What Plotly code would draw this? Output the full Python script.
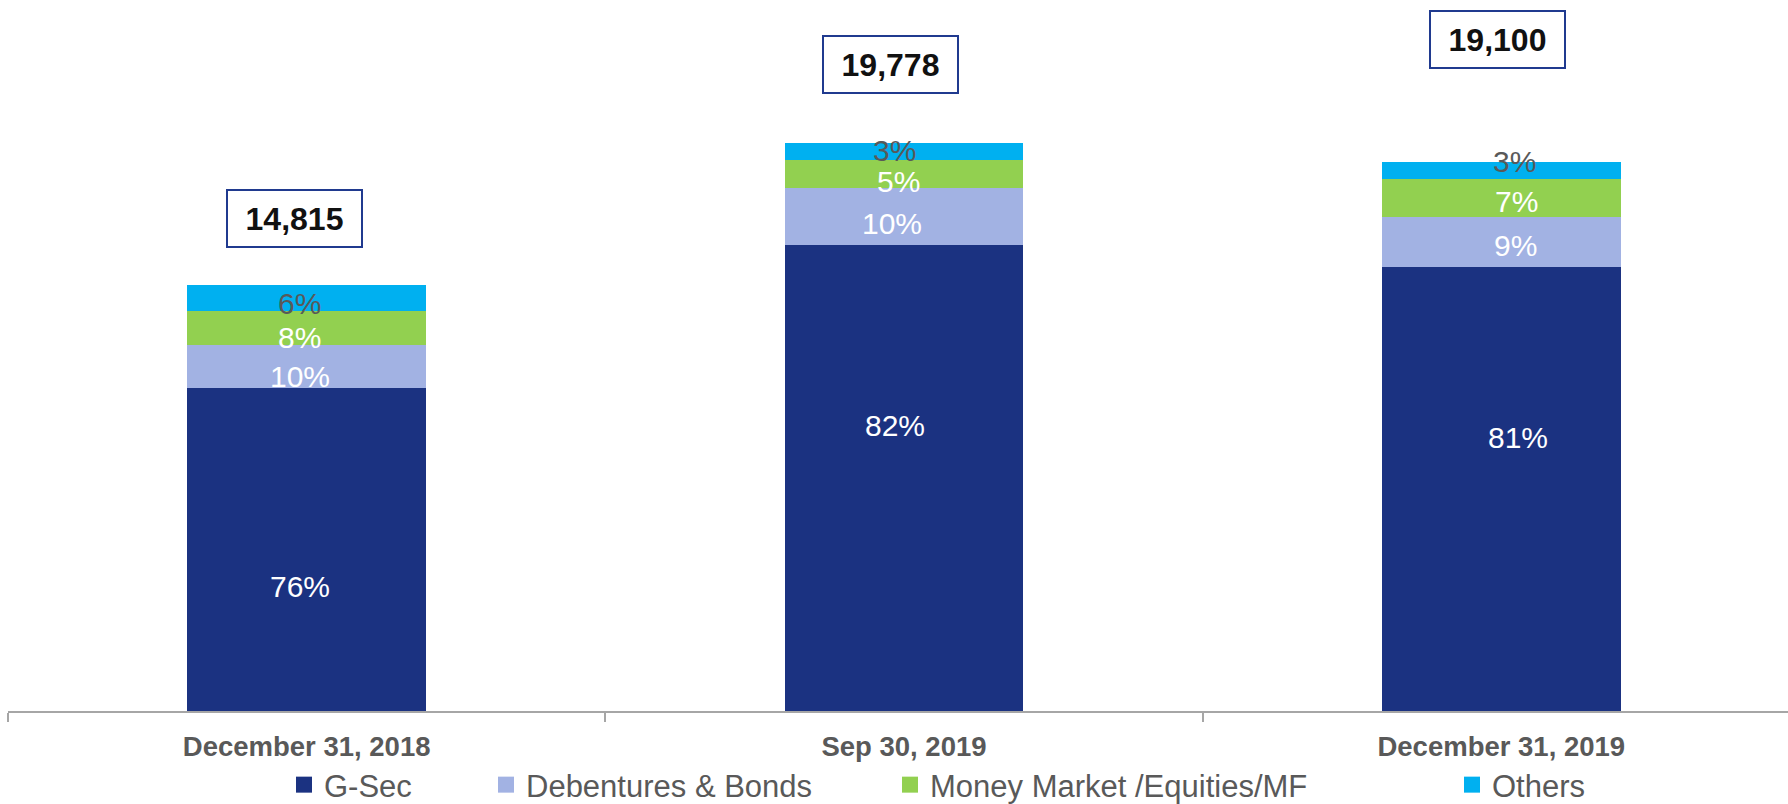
import plotly.graph_objects as go

# ---- data ----
categories = ["December 31, 2018", "Sep 30, 2019", "December 31, 2019"]
totals = [14815, 19778, 19100]
series_names = ["G-Sec", "Debentures & Bonds", "Money Market /Equities/MF", "Others"]
gsec_pct = [76, 82, 81]
debentures_pct = [10, 10, 9]
money_market_pct = [8, 5, 7]
others_pct = [6, 3, 3]
total_labels = ["14,815", "19,778", "19,100"]

pct_series = [gsec_pct, debentures_pct, money_market_pct, others_pct]
colors = ["#1B3281", "#A2B2E3", "#92D050", "#00B0F0"]
label_colors = ["#FFFFFF", "#FFFFFF", "#FFFFFF", "#595959"]
FONT = "Arial, 'Liberation Sans', sans-serif"

fig = go.Figure()
legend_names = ["legend", "legend2", "legend3", "legend4"]
for k, (name, pcts) in enumerate(zip(series_names, pct_series)):
    vals = [t * p / 100 for t, p in zip(totals, pcts)]
    fig.add_trace(go.Bar(
        x=categories, y=vals, name=name,
        marker=dict(color=colors[k], line=dict(width=0)),
        width=0.40, hoverinfo="skip", showlegend=False,
    ))
# legend entries (square swatches)
for k, name in enumerate(series_names):
    fig.add_trace(go.Scatter(
        x=[None], y=[None], mode="markers", name=name,
        marker=dict(symbol="square", size=16, color=colors[k]),
        legend=legend_names[k], hoverinfo="skip",
    ))

# percentage labels (manual offsets as in the original slide)
xshifts = [[-7, -7, -7, -7], [-9, -12, -5, -9], [17, 14, 15, 13]]
yshifts = [[-37, -10, -10, -5], [53, -7, -7, 1], [51, -4, -4, 9]]
annotations = []
for i, cat in enumerate(categories):
    base = 0
    for k, pcts in enumerate(pct_series):
        h = totals[i] * pcts[i] / 100
        annotations.append(dict(
            x=cat, xref="x", y=base + h / 2, yref="y",
            text=f"{pcts[i]}%", showarrow=False,
            font=dict(family=FONT, size=30, color=label_colors[k]),
            xshift=xshifts[i][k], yshift=yshifts[i][k],
        ))
        base += h

# total boxes
box_xshift = [-12, -13, -4]
box_y = [0.692, 0.909, 0.944]
for i, cat in enumerate(categories):
    annotations.append(dict(
        x=cat, xref="x", y=box_y[i], yref="paper",
        text=f"<b>{total_labels[i]}</b>", showarrow=False,
        font=dict(family=FONT, size=32, color="#111111"),
        width=133, height=55, bordercolor="#203A8F", borderwidth=2,
        borderpad=0, bgcolor="#FFFFFF", xshift=box_xshift[i],
        xanchor="center", yanchor="middle",
    ))

legend_x_px = [284, 486, 890, 1452]
legend_common = dict(orientation="h", yanchor="middle", y=(711 - 785) / 711, xanchor="left",
                     font=dict(family=FONT, size=31, color="#595959"),
                     bgcolor="rgba(0,0,0,0)", borderwidth=0, itemclick=False,
                     itemdoubleclick=False)
legend_layout = {}
for k, ln in enumerate(legend_names):
    legend_layout[ln] = dict(legend_common, x=(legend_x_px[k] - 8) / 1780)

fig.update_layout(
    barmode="stack",
    width=1788, height=804,
    margin=dict(l=8, r=0, t=0, b=93, autoexpand=False),
    paper_bgcolor="#FFFFFF", plot_bgcolor="#FFFFFF",
    showlegend=True,
    annotations=annotations,
    xaxis=dict(
        type="category", range=[-0.5, 2.48],
        showline=True, linecolor="#A6A6A6", linewidth=2,
        ticks="outside", tickson="boundaries", ticklen=9, tickcolor="#A6A6A6", tickwidth=2,
        ticklabelstandoff=10,
        tickfont=dict(family=FONT, size=27.5, color="#595959"),
        tickprefix="<b>", ticksuffix="</b>",
        showgrid=False, zeroline=False,
    ),
    yaxis=dict(range=[0, 24750], visible=False, showgrid=False, zeroline=False),
    **legend_layout,
)

fig.write_html(
    "out.html",
    config={"displayModeBar": False},
    post_script="document.body.style.margin='0';document.body.style.padding='0';"
                "document.body.style.overflow='hidden';",
)
